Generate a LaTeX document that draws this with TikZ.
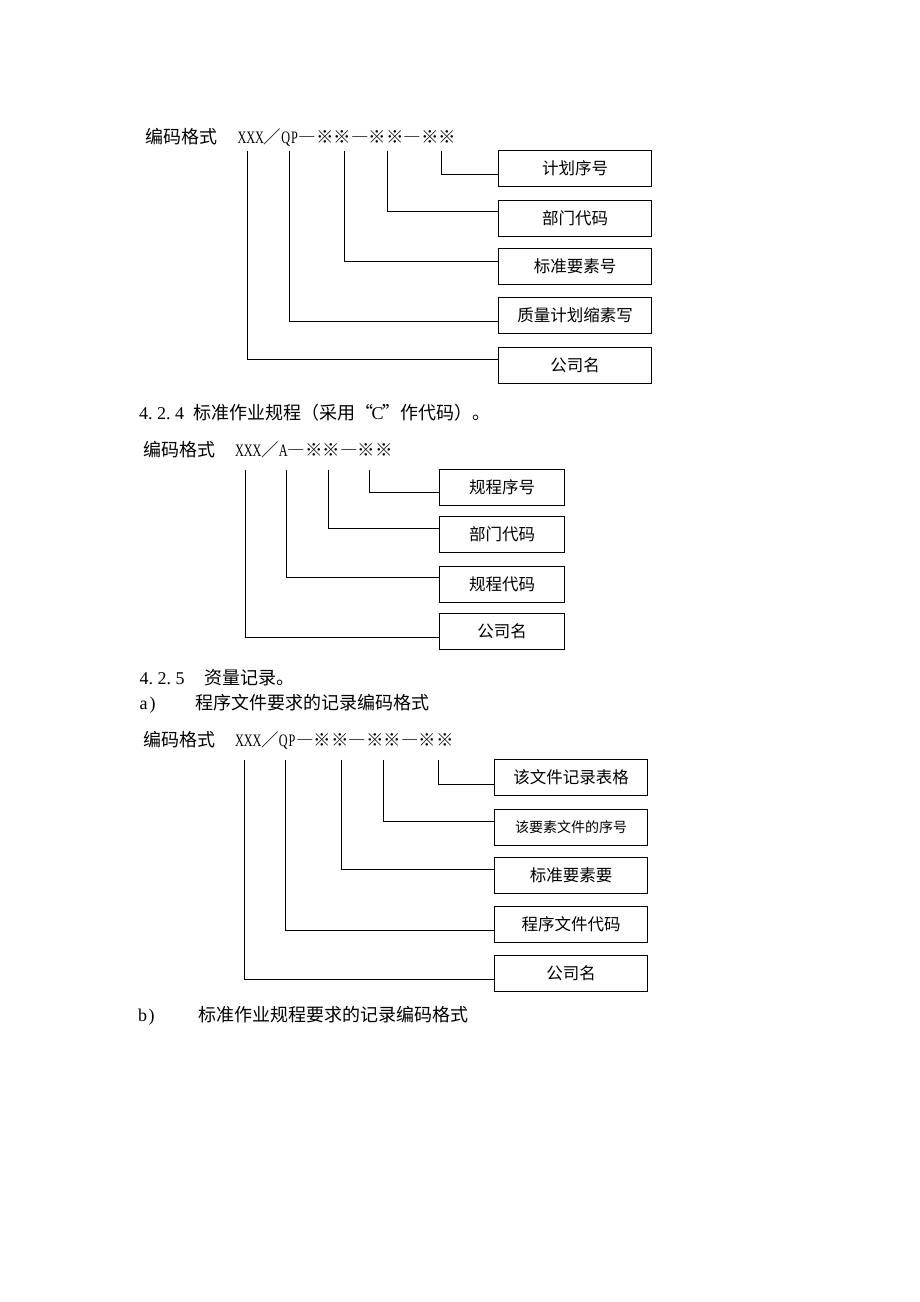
\documentclass[tikz,border=0pt]{standalone}
\usepackage{fontspec}
\setmainfont{Noto Sans CJK SC}
\newfontfamily\lat{Liberation Serif}
\newfontfamily\latn[FakeStretch=0.7]{Liberation Serif}
\newcommand\hc[1]{\makebox[0.5em]{\lat #1}}
\newcommand\hp{\makebox[0.5em][l]{\lat .}}
\newcommand\nc[1]{\makebox[0.5em]{\latn #1}}
\newcommand\fw[1]{\makebox[1em]{#1}}
\newcommand\fd{\makebox[1em]{\addfontfeature{RawFeature=+fwid}—}}
\begin{document}
\begin{tikzpicture}[x=1pt,y=-1pt,
  txt/.style={anchor=west,inner sep=0pt,text height=0.88em,text depth=0.12em},
  body/.style={txt,font=\fontsize{18pt}{20pt}\selectfont},
  code/.style={txt,font=\fontsize{17.5pt}{20pt}\selectfont},
  box/.style={draw,line width=1.5pt,inner sep=0pt,minimum height=36pt,font=\fontsize{16.5pt}{18pt}\selectfont},
  conn/.style={line width=1.5pt}]
\fill[white] (0,0) rectangle (920,1302);
\useasboundingbox (0,0) rectangle (920,1302);

% ---------- diagram 1 ----------
\node[body] (h1) at (145,140) {编码格式};
\node[code] (c1) at (237.5,140) {\nc X\nc X\nc X\fw{／}\nc Q\nc P\fd\fw{※}\fw{※}\fd\fw{※}\fw{※}\fd\fw{※}\fw{※}};
\foreach \n/\y/\t in {1/168.5/计划序号,2/218.5/部门代码,3/266.5/标准要素号,4/315.5/质量计划缩素写,5/365.5/公司名}
  \node[box,minimum width=153pt] (a\n) at (575,\y) {\t};
\coordinate (p11) at (441.5,150.5);
\coordinate (p12) at (387.5,150.5);
\coordinate (p13) at (344.5,150.5);
\coordinate (p14) at (289.5,150.5);
\coordinate (p15) at (247.5,150.5);
\draw[conn] (p11) |- ([yshift=-6pt]a1.west);
\draw[conn] (p12) |- ([yshift=7pt]a2.west);
\draw[conn] (p13) |- ([yshift=5pt]a3.west);
\draw[conn] (p14) |- ([yshift=-6pt]a4.west);
\draw[conn] (p15) |- ([yshift=6pt]a5.west);

% ---------- 4.2.4 ----------
\node[body] (t424) at (139,416) {\hc4\hp\hc2\hp\hc4\hc{}标准作业规程（采用\makebox[1em][r]{“}\hc C\makebox[1em][l]{”}作代码）。};
\node[body] (h2) at (143,452.5) {编码格式};
\node[code] (c2) at (235,452.5) {\nc X\nc X\nc X\fw{／}\nc A\fd\fw{※}\fw{※}\fd\fw{※}\fw{※}};
\foreach \n/\y/\t in {1/487.5/规程序号,2/534.5/部门代码,3/584.5/规程代码,4/631.5/公司名}
  \node[box,minimum width=125pt] (b\n) at (502,\y) {\t};
\coordinate (p21) at (369.5,469.5);
\coordinate (p22) at (328.5,469.5);
\coordinate (p23) at (286.5,469.5);
\coordinate (p24) at (245.5,469.5);
\draw[conn] (p21) |- ([yshift=-5pt]b1.west);
\draw[conn] (p22) |- ([yshift=6pt]b2.west);
\draw[conn] (p23) |- ([yshift=7pt]b3.west);
\draw[conn] (p24) |- ([yshift=-6pt]b4.west);

% ---------- 4.2.5 ----------
\node[body] (n425) at (139.5,681) {\hc4\hp\hc2\hp\hc5};
\node[body] (t425) at (204,681) {资量记录。};
\node[body] (na) at (139,705.5) {\hc a\hc )};
\node[body] (ta) at (195,705.5) {程序文件要求的记录编码格式};
\node[body] (h3) at (143,743) {编码格式};
\node[code] (c3) at (235,743) {\nc X\nc X\nc X\fw{／}\nc Q\nc P\fd\fw{※}\fw{※}\fd\fw{※}\fw{※}\fd\fw{※}\fw{※}};
\foreach \n/\y/\t in {1/777.5/该文件记录表格,3/875.5/标准要素要,4/924.5/程序文件代码,5/973.5/公司名}
  \node[box,minimum width=153pt] (c\n) at (571,\y) {\t};
\node[box,minimum width=153pt,font=\fontsize{14pt}{16pt}\selectfont] (c2) at (571,827.5) {该要素文件的序号};
\coordinate (p31) at (438.5,759.5);
\coordinate (p32) at (383.5,759.5);
\coordinate (p33) at (341.5,759.5);
\coordinate (p34) at (285.5,759.5);
\coordinate (p35) at (244.5,759.5);
\draw[conn] (p31) |- ([yshift=-7pt]c1.west);
\draw[conn] (p32) |- ([yshift=6pt]c2.west);
\draw[conn] (p33) |- ([yshift=6pt]c3.west);
\draw[conn] (p34) |- ([yshift=-6pt]c4.west);
\draw[conn] (p35) |- ([yshift=-6pt]c5.west);

% ---------- b) ----------
\node[body] (nb) at (138,1017.5) {\hc b\hc )};
\node[body] (tb) at (198,1017.5) {标准作业规程要求的记录编码格式};
\end{tikzpicture}
\end{document}
